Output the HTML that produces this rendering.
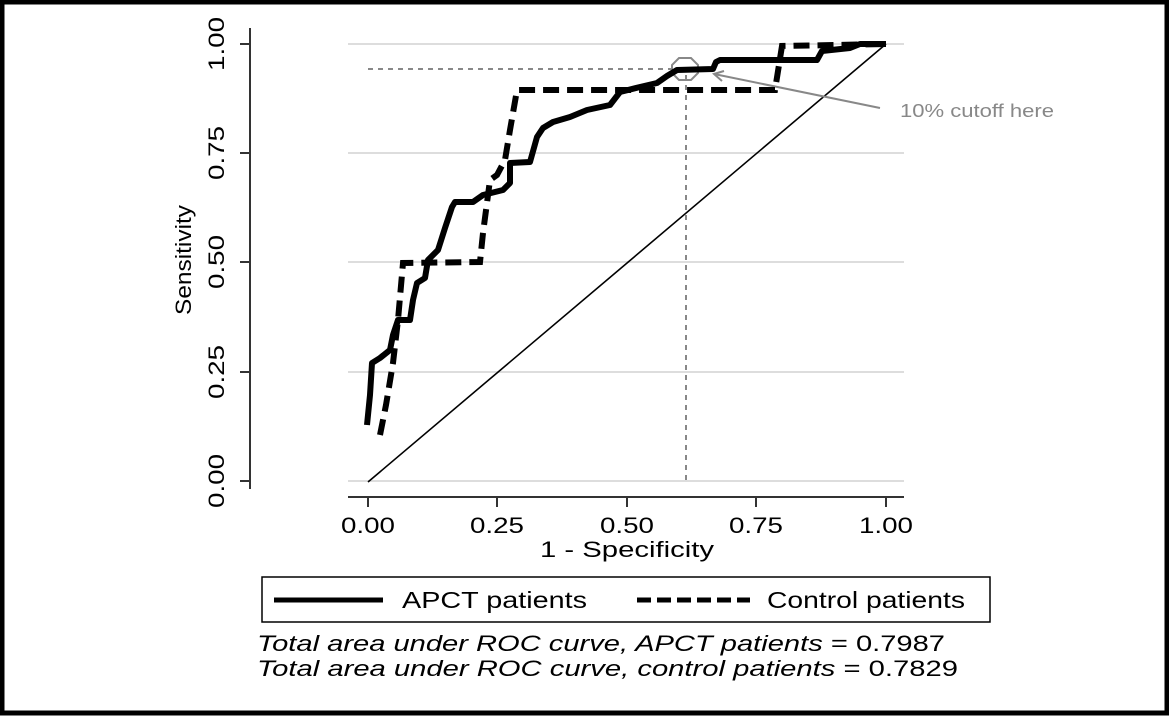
<!DOCTYPE html>
<html><head><style>body{margin:0;background:#fff}svg{display:block}</style></head><body>
<svg width="1169" height="716" viewBox="0 0 1169 716" xmlns="http://www.w3.org/2000/svg" font-family="Liberation Sans, Arial, sans-serif">
<rect x="2" y="2" width="1165" height="711" fill="#fff" stroke="#000" stroke-width="5"/>
<g stroke="#ddd" stroke-width="2">
<line x1="348" y1="44" x2="904" y2="44"/><line x1="348" y1="153" x2="904" y2="153"/><line x1="348" y1="262" x2="904" y2="262"/><line x1="348" y1="372" x2="904" y2="372"/><line x1="348" y1="481" x2="904" y2="481"/>
</g>
<g stroke="#333" stroke-width="2" fill="none">
<line x1="250" y1="28" x2="250" y2="489"/>
<line x1="240" y1="44" x2="250" y2="44"/><line x1="240" y1="153" x2="250" y2="153"/><line x1="240" y1="262" x2="250" y2="262"/><line x1="240" y1="372" x2="250" y2="372"/><line x1="240" y1="481" x2="250" y2="481"/>
<line x1="348" y1="497" x2="904" y2="497"/>
<line x1="368" y1="497" x2="368" y2="507"/><line x1="497" y1="497" x2="497" y2="507"/><line x1="627" y1="497" x2="627" y2="507"/><line x1="756" y1="497" x2="756" y2="507"/><line x1="886" y1="497" x2="886" y2="507"/>
</g>
<g font-size="22" fill="#000" text-anchor="middle" lengthAdjust="spacingAndGlyphs">
<text transform="translate(224,44) rotate(-90)" textLength="54" lengthAdjust="spacingAndGlyphs">1.00</text>
<text transform="translate(224,153) rotate(-90)" textLength="54" lengthAdjust="spacingAndGlyphs">0.75</text>
<text transform="translate(224,262) rotate(-90)" textLength="54" lengthAdjust="spacingAndGlyphs">0.50</text>
<text transform="translate(224,372) rotate(-90)" textLength="54" lengthAdjust="spacingAndGlyphs">0.25</text>
<text transform="translate(224,481) rotate(-90)" textLength="54" lengthAdjust="spacingAndGlyphs">0.00</text>
<text transform="translate(191,260) rotate(-90)" textLength="110" lengthAdjust="spacingAndGlyphs">Sensitivity</text>
<text x="368" y="533" textLength="54" lengthAdjust="spacingAndGlyphs">0.00</text><text x="497" y="533" textLength="54" lengthAdjust="spacingAndGlyphs">0.25</text><text x="627" y="533" textLength="54" lengthAdjust="spacingAndGlyphs">0.50</text><text x="756" y="533" textLength="54" lengthAdjust="spacingAndGlyphs">0.75</text><text x="886" y="533" textLength="54" lengthAdjust="spacingAndGlyphs">1.00</text>
<text x="627" y="557" textLength="174" lengthAdjust="spacingAndGlyphs">1 - Specificity</text>
</g>
<line x1="368" y1="482" x2="886" y2="44" stroke="#000" stroke-width="1.6"/>
<g stroke="#888" stroke-width="2" stroke-dasharray="5,5" fill="none">
<line x1="368" y1="69" x2="680" y2="69"/><line x1="686" y1="75" x2="686" y2="482"/>
</g>
<polygon points="679,58 691,58 698,65 698,73 691,80 679,80 672,73 672,65" fill="none" stroke="#888" stroke-width="2"/>
<line x1="880" y1="108" x2="714" y2="74" stroke="#888" stroke-width="2"/>
<polyline points="724,71 714,74 722,81" fill="none" stroke="#888" stroke-width="2"/>
<text x="900" y="117" font-size="18" fill="#888" textLength="154" lengthAdjust="spacingAndGlyphs">10% cutoff here</text>
<polyline fill="none" stroke="#000" stroke-width="6" stroke-linejoin="round" points="367,425 370,395 372,363 380,358 390,350 393,335 398,320 410,320 413,300 417,283 425,278 428,260 438,250 445,228 452,207 455,202 473,202 483,195 503,190 510,183 510,163 530,162 537,137 543,128 553,122 570,117 587,110 610,105 620,92 640,87 657,83 667,76 677,70 713,69 716,62 720,60 817,60 822,51 850,48 860,44 886,44"/>
<polyline fill="none" stroke="#000" stroke-width="6" stroke-dasharray="16,8" points="380,435 386,405 393,363 398,320 403,263 480,262 483,233 490,180 497,175 505,160 510,130 517,90 775,90 782,46 886,44"/>
<rect x="262" y="577" width="728" height="45" fill="none" stroke="#000" stroke-width="1.5"/>
<line x1="274" y1="600" x2="383" y2="600" stroke="#000" stroke-width="5"/>
<line x1="637" y1="600" x2="750" y2="600" stroke="#000" stroke-width="5" stroke-dasharray="14,6"/>
<g font-size="23" fill="#000">
<text x="402" y="608" textLength="185" lengthAdjust="spacingAndGlyphs">APCT patients</text>
<text x="767" y="608" textLength="198" lengthAdjust="spacingAndGlyphs">Control patients</text>
</g>
<g font-size="22" fill="#000">
<text x="257" y="651" textLength="688" lengthAdjust="spacingAndGlyphs"><tspan font-style="italic">Total area under ROC curve, APCT patients</tspan> = 0.7987</text>
<text x="257" y="676" textLength="701" lengthAdjust="spacingAndGlyphs"><tspan font-style="italic">Total area under ROC curve, control patients</tspan> = 0.7829</text>
</g>
</svg>
</body></html>
